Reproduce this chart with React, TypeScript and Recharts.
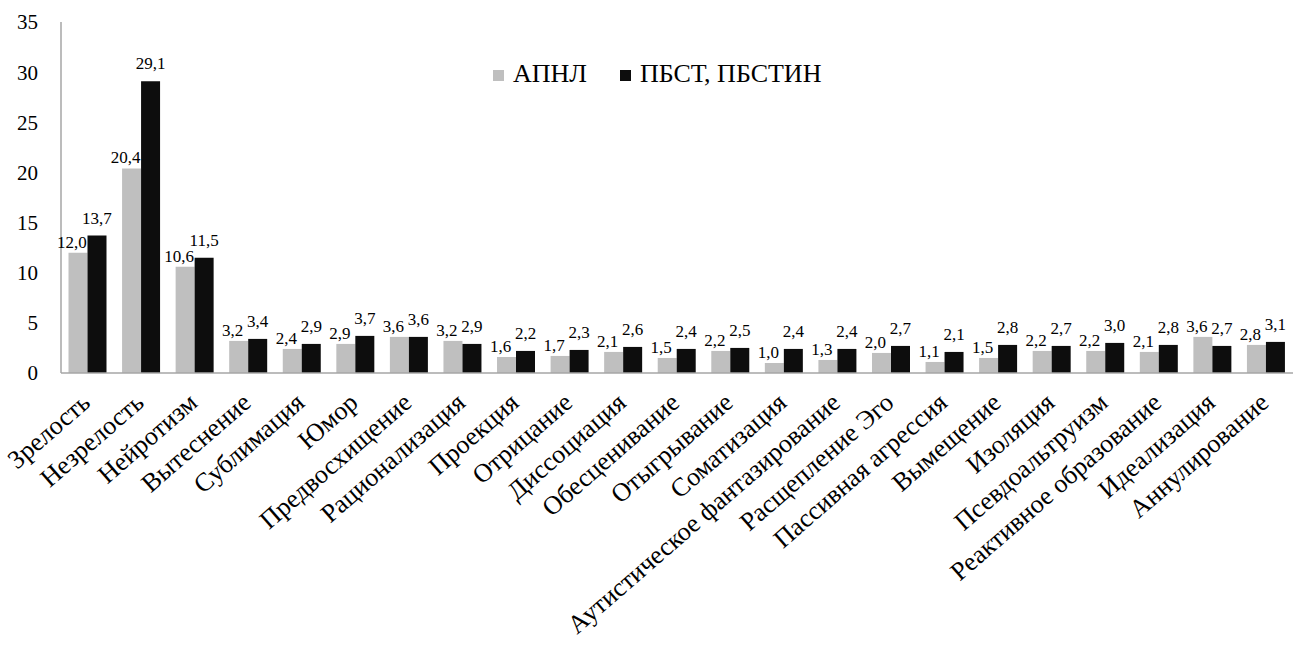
import React from 'react'
import { BarChart, Bar, XAxis, YAxis, Legend, LabelList } from 'recharts'

const categories = [
  'Зрелость',
  'Незрелость',
  'Нейротизм',
  'Вытеснение',
  'Сублимация',
  'Юмор',
  'Предвосхищение',
  'Рационализация',
  'Проекция',
  'Отрицание',
  'Диссоциация',
  'Обесценивание',
  'Отыгрывание',
  'Соматизация',
  'Аутистическое фантазирование',
  'Расщепление Эго',
  'Пассивная агрессия',
  'Вымещение',
  'Изоляция',
  'Псевдоальтруизм',
  'Реактивное образование',
  'Идеализация',
  'Аннулирование',
]

const apnlValues = [12.0, 20.4, 10.6, 3.2, 2.4, 2.9, 3.6, 3.2, 1.6, 1.7, 2.1, 1.5, 2.2, 1.0, 1.3, 2.0, 1.1, 1.5, 2.2, 2.2, 2.1, 3.6, 2.8]
const pbstValues = [13.7, 29.1, 11.5, 3.4, 2.9, 3.7, 3.6, 2.9, 2.2, 2.3, 2.6, 2.4, 2.5, 2.4, 2.4, 2.7, 2.1, 2.8, 2.7, 3.0, 2.8, 2.7, 3.1]
const yTicks = [0, 5, 10, 15, 20, 25, 30, 35]

const SERIES = [
  { key: 'apnl', name: 'АПНЛ', color: '#BFBFBF' },
  { key: 'pbst', name: 'ПБСТ, ПБСТИН', color: '#0D0D0D' },
]

const data = categories.map((name, i) => ({ name, apnl: apnlValues[i], pbst: pbstValues[i] }))

const FONT = "'Times New Roman', 'Liberation Serif', serif"
const AXIS_COLOR = '#A6A6A6'

const fmt = (v: any) => Number(v).toFixed(1).replace('.', ',')

function CategoryTick(props: any) {
  const { x, y, payload } = props
  const ax = x + 4
  const ay = y + 24
  return (
    <text
      x={ax}
      y={ay}
      textAnchor="end"
      transform={`rotate(-41 ${ax} ${ay})`}
      fontSize={26}
      fontFamily={FONT}
      fill="#000"
    >
      {payload.value}
    </text>
  )
}

function LegendContent(props: any) {
  const items = props.payload ?? []
  return (
    <div style={{ display: 'flex', alignItems: 'center', fontFamily: FONT, fontSize: 26, lineHeight: '26px', color: '#000' }}>
      {items.map((item: any, i: number) => (
        <div key={item.value} style={{ display: 'flex', alignItems: 'center', marginLeft: i === 0 ? 0 : 33 }}>
          <span style={{ width: 11, height: 11, background: item.color, display: 'inline-block', marginRight: 9, marginTop: 3 }} />
          <span style={{ whiteSpace: 'nowrap' }}>{item.value}</span>
        </div>
      ))}
    </div>
  )
}

export default function App() {
  return (
    <div style={{ position: 'absolute', left: 0, top: 0, width: 1302, height: 660, background: '#fff' }}>
      <BarChart
        width={1302}
        height={660}
        data={data}
        margin={{ top: 22, right: 9, left: 0, bottom: 7 }}
        barCategoryGap="14%"
        barGap={0}
      >
        <XAxis
          dataKey="name"
          interval={0}
          height={280}
          tickLine={false}
          axisLine={{ stroke: AXIS_COLOR, strokeWidth: 1.5 }}
          tick={<CategoryTick />}
        />
        <YAxis
          width={61}
          domain={[0, 35]}
          ticks={yTicks}
          tickLine={false}
          tickMargin={17}
          axisLine={{ stroke: AXIS_COLOR, strokeWidth: 1.5 }}
          tick={{ fill: '#000', fontSize: 21, fontFamily: FONT }}
        />
        <Legend
          layout="horizontal"
          verticalAlign="middle"
          align="center"
          content={<LegendContent />}
          wrapperStyle={{ top: 61, left: 493, width: 'auto', height: 'auto' }}
        />
        {SERIES.map((s, idx) => (
          <Bar key={s.key} dataKey={s.key} name={s.name} fill={s.color} isAnimationActive={false}>
            <LabelList
              dataKey={s.key}
              position="top"
              offset={idx === 0 ? 5 : 12}
              dx={idx === 0 ? -6 : 0}
              formatter={fmt}
              fill="#000"
              fontSize={17}
              fontFamily={FONT}
            />
          </Bar>
        ))}
      </BarChart>
    </div>
  )
}
